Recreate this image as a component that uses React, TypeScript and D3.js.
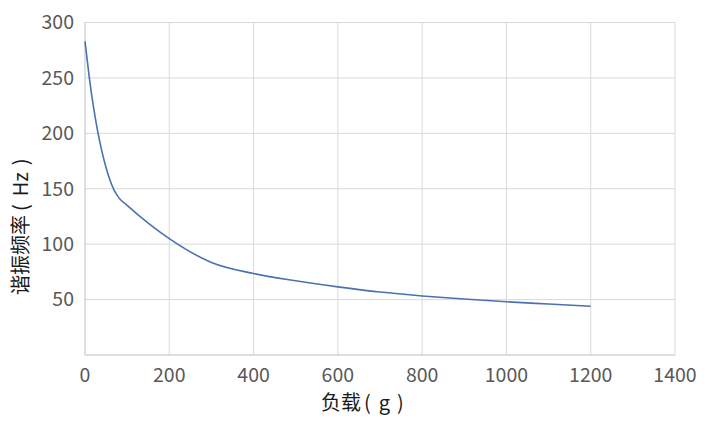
import * as d3 from "d3";
import { useEffect, useRef } from "react";

// Load (g) vs. resonant frequency (Hz)
const loads = [0, 10, 20, 30, 40, 50, 60, 70, 80, 100, 150, 200, 300, 400, 500, 600, 700, 800, 900, 1000, 1100, 1200];
const freqs = [283, 251, 224, 202, 184, 169, 157, 148, 142, 135, 119, 105, 83.5, 73.5, 67, 61.5, 56.8, 53.3, 50.5, 48, 46, 44];

const xTicks = [0, 200, 400, 600, 800, 1000, 1200, 1400];
const yTicks = [50, 100, 150, 200, 250, 300];

const W = 718;
const H = 427;
const FONT = "'Noto Sans CJK SC', 'Noto Sans', sans-serif";

export default function App() {
  const svgRef = useRef<SVGSVGElement>(null);

  useEffect(() => {
    if (!svgRef.current) return;
    const svg = d3.select(svgRef.current);
    svg.selectAll("*").remove();

    const margin = { top: 22.5, right: 43, bottom: 72, left: 85 };
    const innerW = W - margin.left - margin.right;
    const innerH = H - margin.top - margin.bottom;

    const g = svg.append("g").attr("transform", `translate(${margin.left},${margin.top})`);

    const x = d3.scaleLinear().domain([0, 1400]).range([0, innerW]);
    const y = d3.scaleLinear().domain([0, 300]).range([innerH, 0]);

    // grid
    g.append("g")
      .selectAll("line")
      .data(xTicks.slice(1))
      .enter()
      .append("line")
      .attr("x1", (d) => x(d))
      .attr("x2", (d) => x(d))
      .attr("y1", 0)
      .attr("y2", innerH)
      .attr("stroke", "#d9d9d9")
      .attr("stroke-width", 1);

    g.append("g")
      .selectAll("line")
      .data(yTicks)
      .enter()
      .append("line")
      .attr("x1", 0)
      .attr("x2", innerW)
      .attr("y1", (d) => y(d))
      .attr("y2", (d) => y(d))
      .attr("stroke", "#d9d9d9")
      .attr("stroke-width", 1);

    // axis lines
    g.append("line")
      .attr("x1", 0).attr("x2", 0).attr("y1", 0).attr("y2", innerH)
      .attr("stroke", "#bfbfbf");
    g.append("line")
      .attr("x1", 0).attr("x2", innerW).attr("y1", innerH).attr("y2", innerH)
      .attr("stroke", "#bfbfbf");

    // tick labels
    g.append("g")
      .selectAll("text")
      .data(xTicks)
      .enter()
      .append("text")
      .attr("x", (d) => x(d))
      .attr("y", innerH + 27)
      .attr("text-anchor", "middle")
      .style("font-family", FONT)
      .style("font-size", "19.5px")
      .style("fill", "#595959")
      .text((d) => d);

    g.append("g")
      .selectAll("text")
      .data(yTicks)
      .enter()
      .append("text")
      .attr("x", -11)
      .attr("y", (d) => y(d))
      .attr("dy", "0.35em")
      .attr("text-anchor", "end")
      .style("font-family", FONT)
      .style("font-size", "19.5px")
      .style("fill", "#595959")
      .text((d) => d);

    // curve
    const line = d3
      .line<number>()
      .x((d) => x(d))
      .y((_, i) => y(freqs[i]))
      .curve(d3.curveMonotoneX);

    g.append("path")
      .datum(loads)
      .attr("d", line)
      .attr("fill", "none")
      .attr("stroke", "#4a72b0")
      .attr("stroke-width", 1.6);

    // axis titles (pieces spaced like the wide Chinese-font parentheses)
    const addTitle = (
      sel: d3.Selection<SVGTextElement, unknown, null, undefined>,
      parts: [string, number][],
    ) => {
      sel
        .style("font-family", FONT)
        .style("font-size", "20px")
        .style("fill", "#1a1a1a");
      parts.forEach(([t, dx]) => sel.append("tspan").attr("dx", dx).text(t));
    };

    addTitle(
      svg.append("text").attr("x", 321).attr("y", 403).attr("dy", "0.35em"),
      [["负载", 0], ["(", 3], ["g", 8], [")", 7]],
    );

    addTitle(
      svg
        .append("text")
        .attr("transform", `translate(21,295) rotate(-90)`)
        .attr("dy", "0.35em"),
      [["谐振频率", 0], ["(", 4], ["Hz", 8], [")", 7]],
    );
  }, []);

  return (
    <svg
      ref={svgRef}
      width={W}
      height={H}
      style={{ position: "absolute", left: 0, top: 0, background: "#fff" }}
    />
  );
}
